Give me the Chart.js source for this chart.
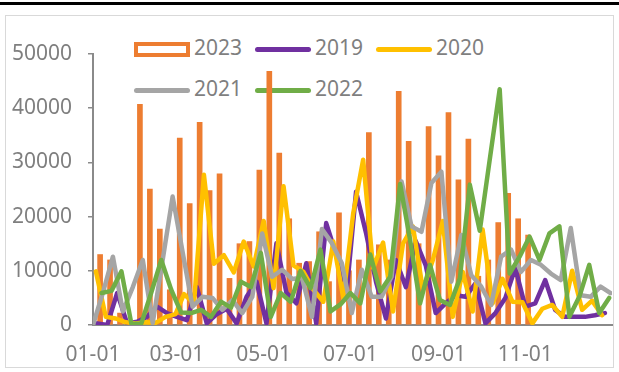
<!DOCTYPE html>
<html>
<head>
<meta charset="utf-8">
<script src="https://cdn.jsdelivr.net/npm/chart.js@4/dist/chart.umd.min.js"></script>
<style>
  html, body { margin: 0; padding: 0; background: #fff; }
  #wrap { position: relative; width: 619px; height: 372px; overflow: hidden; font-family: "Noto Sans", sans-serif; }
  #topRule { position: absolute; left: 0; top: 2px; width: 619px; height: 3px; background: #000; }
  #frame { position: absolute; left: 5px; top: 15px; width: 607px; height: 351px; border: 1px solid #d9d9d9; }
  #legend { position: absolute; left: 0; top: 0; width: 619px; height: 372px; }
  .lg-text { position: absolute; font-size: 21px; line-height: 24px; color: #7f7f7f; white-space: nowrap; }
  .lg-line { position: absolute; width: 56px; height: 5px; border-radius: 3px; }
  .lg-box { position: absolute; width: 56px; height: 15px; box-sizing: border-box; border: 4px solid #ED7D31; background: #fff; }
  #chart { position: absolute; left: 0; top: 0; }
</style>
</head>
<body>
<div id="wrap">
  <div id="topRule"></div>
  <div id="frame"></div>
  <div id="legend"></div>
  <canvas id="chart" width="619" height="372"></canvas>
</div>
<script>
// Axis tick labels (month-day)
const tickLabels = ['01-01', '03-01', '05-01', '07-01', '09-01', '11-01'];

// First weekly date of each year's series
const start2023 = '2023-01-06';
const start2019 = '2019-01-04';
const start2020 = '2020-01-03';
const start2021 = '2021-01-01';
const start2022 = '2022-01-07';

// Weekly values
const v2023 = [13000, 12000, 2200, 500, 40700, 25100, 17700, 6500, 34500, 22400,
  37400, 24800, 27900, 8600, 15000, 15400, 28600, 46800, 31700, 19600,
  11400, 11700, 17200, 8000, 20700, 10000, 12000, 35500, 14800, 12000,
  43100, 33900, 15000, 36600, 31200, 39200, 26800, 34300, 9000, 12000,
  18900, 24300, 19600, 16600];

const v2019 = [300, 0, 5900, 300, 600, 1500, 3400, 2200, 1500, 900,
  7000, 300, 2000, 3000, 300, 5200, 8000, 300, 15100, 6000,
  4000, 11400, 300, 18800, 13000, 5000, 24600, 17000, 8000, 1200,
  12000, 7000, 15500, 11000, 2200, 4000, 5500, 5200, 7700, 300,
  2200, 5000, 10500, 3400, 4000, 8300, 2800, 1500, 1500, 1500,
  1800, 2200];

const v2020 = [9900, 1500, 1200, 500, 300, 500, 400, 1500, 2000, 5700,
  4000, 27700, 11300, 12900, 9700, 15400, 10800, 19200, 6800, 25600,
  11000, 9800, 6500, 4300, 15400, 5000, 20600, 30500, 10500, 15200,
  2500, 15000, 18200, 6500, 12000, 19200, 1500, 9800, 2500, 17600,
  4000, 8500, 4300, 4200, 300, 3000, 3700, 1500, 10000, 2800,
  4500, 1800];

const v2021 = [0, 6000, 12600, 2500, 7000, 12000, 400, 12000, 23700, 13500,
  3400, 5200, 5000, 2800, 4600, 2200, 5200, 16900, 8900, 10200,
  8500, 8700, 1500, 17700, 15100, 11400, 2200, 10200, 5200, 5200,
  8900, 26500, 18200, 17200, 26200, 28300, 8000, 16600, 9200, 7100,
  3700, 12600, 13900, 9800, 12000, 11100, 9500, 8300, 17900, 5500,
  5200, 7100, 5900];

const v2022 = [5900, 6300, 9900, 200, 300, 6000, 12000, 6500, 2300, 2200,
  2800, 1500, 4300, 3200, 8000, 7000, 13300, 1500, 5900, 4300,
  10000, 6800, 13900, 2500, 3800, 5900, 4000, 13000, 6200, 8900,
  26000, 15700, 4000, 11100, 4600, 3700, 8600, 25900, 17400, 30500,
  43500, 9500, 12600, 16300, 12000, 16900, 18200, 1500, 5200, 11100,
  2200, 5000];

const COLORS = { o: '#ED7D31', p: '#7030A0', y: '#FFC000', g: '#A5A5A5', gr: '#70AD47' };
const TEXT = '#7f7f7f';
const AXIS = '#8a8a8a';

// Position of a month-day on a common (non-leap) year, in days from 01-01
function dayOfYear(month, day) {
  return (Date.UTC(2023, month - 1, day) - Date.UTC(2023, 0, 1)) / 864e5;
}
function weeklyDays(startIso, n) {
  const [y, m, d] = startIso.split('-').map(Number);
  const out = [];
  for (let i = 0; i < n; i++) {
    const t = new Date(Date.UTC(y, m - 1, d + 7 * i));
    out.push(dayOfYear(t.getUTCMonth() + 1, t.getUTCDate()));
  }
  return out;
}
function points(startIso, values) {
  const days = weeklyDays(startIso, values.length);
  return values.map((v, i) => ({ x: days[i], y: v }));
}
const tickDays = tickLabels.map(s => { const [m, d] = s.split('-').map(Number); return dayOfYear(m, d); });

const lineStyle = { type: 'line', borderWidth: 4.5, pointRadius: 0, pointHoverRadius: 0, tension: 0,
  borderJoinStyle: 'round', borderCapStyle: 'round', fill: false };

const datasets = [
  { label: '2023', type: 'bar', data: points(start2023, v2023), backgroundColor: COLORS.o,
    borderWidth: 0, barThickness: 5, order: 5 },
  Object.assign({ label: '2019', data: points(start2019, v2019), borderColor: COLORS.p, order: 4 }, lineStyle),
  Object.assign({ label: '2020', data: points(start2020, v2020), borderColor: COLORS.y, order: 3 }, lineStyle),
  Object.assign({ label: '2021', data: points(start2021, v2021), borderColor: COLORS.g, order: 2 }, lineStyle),
  Object.assign({ label: '2022', data: points(start2022, v2022), borderColor: COLORS.gr, order: 1 }, lineStyle)
];

// Legend sits behind the plot, two rows
const legendSlots = [[134, 49], [255, 49], [376, 49], [134, 90], [255, 90]];
const legendEl = document.getElementById('legend');
datasets.forEach((ds, i) => {
  const [lx, cy] = legendSlots[i];
  const mark = document.createElement('div');
  if (ds.type === 'bar') {
    mark.className = 'lg-box';
    mark.style.left = lx + 'px';
    mark.style.top = (cy - 7) + 'px';
  } else {
    mark.className = 'lg-line';
    mark.style.left = lx + 'px';
    mark.style.top = (cy - 2.5) + 'px';
    mark.style.background = ds.borderColor;
  }
  legendEl.appendChild(mark);
  const txt = document.createElement('div');
  txt.className = 'lg-text';
  txt.textContent = ds.label;
  txt.style.left = (lx + 60) + 'px';
  txt.style.top = (cy - 14) + 'px';
  legendEl.appendChild(txt);
});

const font = { family: '"Noto Sans", sans-serif', size: 21 };

new Chart(document.getElementById('chart'), {
  type: 'line',
  data: { datasets },
  options: {
    responsive: false,
    animation: false,
    events: [],
    layout: { padding: { top: 54, right: 7, left: 0, bottom: 0 } },
    plugins: { legend: { display: false }, tooltip: { enabled: false } },
    scales: {
      x: {
        type: 'linear', min: 0, max: 365, offset: false,
        afterBuildTicks: s => { s.ticks = tickDays.map(v => ({ value: v })); },
        afterFit: s => { s.height = 47; },
        ticks: { autoSkip: false, maxRotation: 0, font, color: TEXT, padding: 9,
          callback: (v, i) => tickLabels[i] },
        grid: { display: false },
        border: { display: true, color: AXIS, width: 2 }
      },
      y: {
        min: 0, max: 50000,
        afterFit: s => { s.width = 93; },
        ticks: { stepSize: 10000, font, color: TEXT, padding: 16, callback: v => String(v) },
        grid: { drawOnChartArea: false, drawTicks: true, tickLength: 5, color: AXIS, lineWidth: 1.5 },
        border: { display: true, color: AXIS, width: 2 }
      }
    }
  }
});
</script>
</body>
</html>
